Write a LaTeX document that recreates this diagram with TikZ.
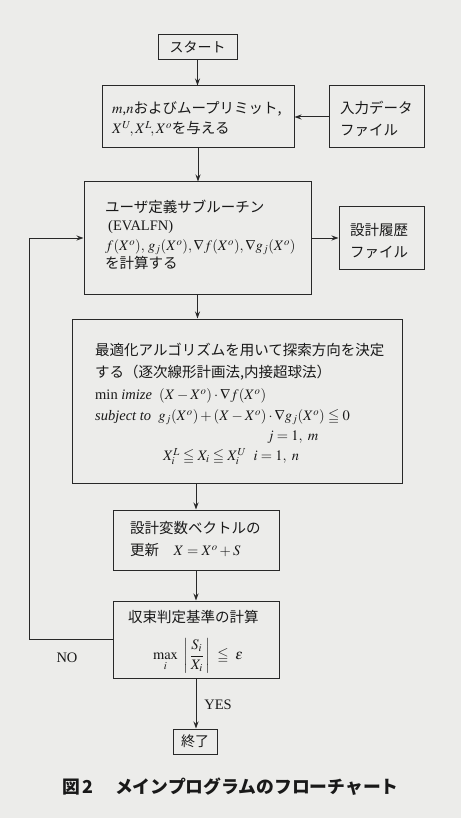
\documentclass[tikz,border=0pt]{standalone}
\usepackage{mathptmx}
\usepackage{amsmath,amssymb}
\usepackage[no-math]{fontspec}
\setmainfont{Liberation Serif}
\newfontfamily\cjk{Noto Sans CJK JP}
\usetikzlibrary{arrows.meta}
\definecolor{bg}{RGB}{236,236,234}
\definecolor{linec}{RGB}{40,40,40}
\definecolor{ink}{RGB}{25,25,25}
\begin{document}
\begin{tikzpicture}[x=1pt,y=-1pt,
  box/.style={draw=linec, line width=1pt, fill=bg, inner sep=0pt, text=ink, font=\fontsize{14}{17}\selectfont},
  arr/.style={draw=linec, line width=1pt, -{Stealth[length=7pt,width=5pt]}},
  txt/.style={anchor=base west, inner sep=0pt, text=ink, font=\fontsize{14.5}{17}\selectfont},
  lbl/.style={anchor=center, inner sep=0pt, text=ink, font=\fontsize{14.5}{17}\selectfont}]
\useasboundingbox[fill=bg] (0,0) rectangle (461,818);
% boxes
\node[box, minimum width=79pt, minimum height=25pt] (start) at (197.5,47.5) {\cjk スタート};
\node[box, minimum width=192pt, minimum height=62pt] (init) at (198,117) {};
\node[box, minimum width=95pt, minimum height=62pt] (input) at (376.5,117) {};
\node[box, minimum width=227pt, minimum height=112pt] (evalfn) at (197.5,238) {};
\node[box, minimum width=85pt, minimum height=62pt] (hist) at (381.5,238) {};
\node[box, minimum width=330pt, minimum height=164pt] (opt) at (237,401) {};
\node[box, minimum width=166pt, minimum height=60pt] (upd) at (196,540) {};
\node[box, minimum width=166pt, minimum height=77pt] (conv) at (196,639.5) {};
\node[box, minimum width=44pt, minimum height=25pt] (end) at (195,741.5) {\cjk 終了};
% texts: init
\node[txt] (t1a) at (112,113.5) {$m$,$n${\cjk およびムープリミット,}};
\node[txt] (t1b) at (112,133.5) {$X^U\!,X^L\!,X^o${\cjk を与える}};
% input
\node[txt] (t2a) at (340,113.5) {\cjk 入力データ};
\node[txt] (t2b) at (340,135.5) {\cjk ファイル};
% evalfn
\node[txt] (t3a) at (105,212.5) {\cjk ユーザ定義サブルーチン};
\node[txt] (t3b) at (108,230.5) {(EVALFN)};
\node[txt] (t3c) at (105,250.5) {$f(X^o),\,g_j(X^o),\nabla f(X^o),\nabla g_j(X^o)$};
\node[txt] (t3d) at (105,268.5) {\cjk を計算する};
% hist
\node[txt] (t4a) at (350,235.5) {\cjk 設計履歴};
\node[txt] (t4b) at (350,257.5) {\cjk ファイル};
% opt
\node[txt] (t5a) at (95,355.5) {\cjk 最適化アルゴリズムを用いて探索方向を決定};
\node[txt] (t5b) at (95,377.5) {\cjk する（逐次線形計画法,内接超球法）};
\node[txt] (t5c) at (95,399.5) {min \textit{imize}\enspace $(X-X^o)\cdot\nabla f(X^o)$};
\node[txt] (t5d) at (95,420.5) {\textit{subject to}\enspace $g_j(X^o)+(X-X^o)\cdot\nabla g_j(X^o)\leqq 0$};
\node[txt] (t5e) at (267,440.5) {$j=1,\ m$};
\node[txt] (t5f) at (163,460.5) {$X_i^L\leqq X_i\leqq X_i^U\ \ i=1,\ n$};
% upd
\node[txt] (t6a) at (130,533.5) {\cjk 設計変数ベクトルの};
\node[txt] (t6b) at (130,555.5) {{\cjk 更新}\quad $X=X^o+S$};
% conv
\node[txt] (t7a) at (128,622.5) {\cjk 収束判定基準の計算};
\node[lbl] (t7b) at (198,656) {$\displaystyle\max_i\ \left|\,\frac{S_i}{X_i}\,\right|\ \leqq\ \varepsilon$};
% labels
\node[lbl] (no) at (67,658) {NO};
\node[lbl] (yes) at (218,705) {YES};
\node[anchor=west, inner sep=0pt, text=ink, font=\fontsize{17.8}{20}\selectfont\cjk\bfseries] (cap) at (62,787) {図\,2\hspace{1.2em}メインプログラムのフローチャート};
% connectors
\coordinate (lp1) at (29,639.5);
\coordinate (lp2) at (29,238);
\draw[arr] (start.south) -- (start.south |- init.north);
\draw[arr] (input.west) -- (init.east);
\draw[arr] (init.south) -- (init.south |- evalfn.north);
\draw[arr] (evalfn.east) -- (hist.west);
\draw[arr] (evalfn.south) -- (evalfn.south |- opt.north);
\draw[arr] (upd.north |- opt.south) -- (upd.north);
\draw[arr] (upd.south) -- (conv.north);
\draw[arr] (conv.south) -- (conv.south |- end.north);
\draw[arr] (conv.west) -- (lp1) -- (lp2) -- (evalfn.west);
\end{tikzpicture}
\end{document}
